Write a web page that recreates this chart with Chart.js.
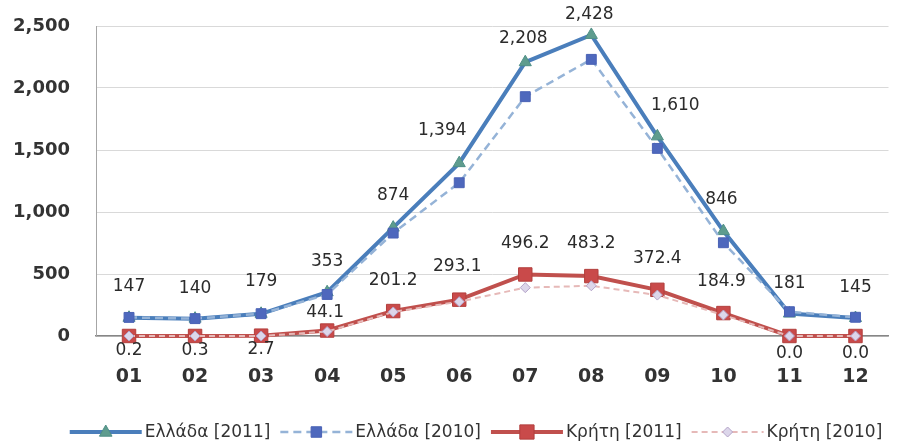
<!DOCTYPE html>
<html>
<head>
<meta charset="utf-8">
<script src="https://cdn.jsdelivr.net/npm/chart.js@4"></script>
<style>
    html, body { margin: 0; padding: 0; background: #fff; }
    #wrap { width: 899px; height: 448px; }
</style>
</head>
<body>
<div id="wrap"><canvas id="chart" width="899" height="448"></canvas></div>
<script>
// Μήνες
const months = ['01', '02', '03', '04', '05', '06', '07', '08', '09', '10', '11', '12'];

// Σειρές δεδομένων
const greece2011 = [147, 140, 179, 353, 874, 1394, 2208, 2428, 1610, 846, 181, 145];
const greece2010 = [150, 140, 180, 335, 830, 1236, 1930, 2231, 1513, 752, 196, 151];
const crete2011 = [0.2, 0.3, 2.7, 44.1, 201.2, 293.1, 496.2, 483.2, 372.4, 184.9, 0.0, 0.0];
const crete2010 = [0, 0, 0, 36, 194, 277, 390, 405, 330, 169, 0, 0];

const seriesNames = ['Ελλάδα [2011]', 'Ελλάδα [2010]', 'Κρήτη [2011]', 'Κρήτη [2010]'];
const yTicks = [0, 500, 1000, 1500, 2000, 2500];

// Μετατόπιση ετικετών τιμών (pixels)
const greeceLabelDx = [0, 0, 0, 0, 0, -17, -2, -2, 18, -2, 0, 0];
const greeceLabelDy = [-31, -30, -32, -31, -32, -33, -24, -20, -31, -32, -30, -30];
const creteLabelDx = [0, 0, 0, -2, 0, -2, 0, 0, 0, -2, 0, 0];
const creteLabelDy = [15, 15, 14, -18, -30, -33, -31, -33, -31, -31, 18, 18];

const FONT = '"DejaVu Sans", Verdana, sans-serif';

// Σχεδίαση δείκτη (για το υπόμνημα)
function drawMarker(ctx, style, x, y, r, fill, stroke) {
    ctx.save();
    ctx.fillStyle = fill;
    ctx.strokeStyle = stroke;
    ctx.lineWidth = 1;
    ctx.setLineDash([]);
    ctx.beginPath();
    if (style === 'triangle') {
        ctx.moveTo(x, y - r);
        ctx.lineTo(x + r * 0.9, y + r * 0.6);
        ctx.lineTo(x - r * 0.9, y + r * 0.6);
    } else if (style === 'rectRot') {
        ctx.moveTo(x, y - r);
        ctx.lineTo(x + r, y);
        ctx.lineTo(x, y + r);
        ctx.lineTo(x - r, y);
    } else {
        const s = r * 0.75;
        ctx.rect(x - s, y - s, 2 * s, 2 * s);
    }
    ctx.closePath();
    ctx.fill();
    ctx.stroke();
    ctx.restore();
}

// Ετικέτες τιμών
const valueLabels = {
    id: 'valueLabels',
    afterDatasetsDraw(chart) {
        const ctx = chart.ctx;
        ctx.save();
        ctx.font = '17px ' + FONT;
        ctx.fillStyle = '#2b2b2b';
        ctx.textAlign = 'center';
        ctx.textBaseline = 'middle';
        chart.data.datasets.forEach((ds, i) => {
            if (!ds.labelDy) return;
            const meta = chart.getDatasetMeta(i);
            meta.data.forEach((pt, j) => {
                ctx.fillText(ds.formatValue(ds.data[j]), pt.x + ds.labelDx[j], pt.y + ds.labelDy[j]);
            });
        });
        ctx.restore();
    }
};

// Υπόμνημα με γραμμή + δείκτη
const lineLegend = {
    id: 'lineLegend',
    afterDraw(chart) {
        const ctx = chart.ctx;
        const sampleW = 72, textGap = 3, itemGap = 10, y = 432, centerX = 476;
        ctx.save();
        ctx.font = '17px ' + FONT;
        ctx.textBaseline = 'middle';
        ctx.textAlign = 'left';
        const items = chart.data.datasets.map(ds => ({ ds, w: sampleW + textGap + ctx.measureText(ds.label).width }));
        const total = items.reduce((s, it) => s + it.w, 0) + itemGap * (items.length - 1);
        let x = centerX - total / 2;
        items.forEach(({ ds, w }) => {
            ctx.save();
            ctx.strokeStyle = ds.borderColor;
            ctx.lineWidth = ds.borderWidth;
            ctx.setLineDash(ds.borderDash || []);
            ctx.beginPath();
            ctx.moveTo(x, y);
            ctx.lineTo(x + sampleW, y);
            ctx.stroke();
            ctx.restore();
            drawMarker(ctx, ds.pointStyle, x + sampleW / 2, y, ds.pointRadius, ds.pointBackgroundColor, ds.pointBorderColor);
            ctx.fillStyle = '#333333';
            ctx.fillText(ds.label, x + sampleW + textGap, y + 1);
            x += w + itemGap;
        });
        ctx.restore();
    }
};

const fmtInt = v => v.toLocaleString('en-US', { maximumFractionDigits: 0 });
const fmtDec = v => v.toFixed(1);

new Chart(document.getElementById('chart'), {
    type: 'line',
    data: {
        labels: months,
        datasets: [
            {
                label: seriesNames[0],
                data: greece2011,
                borderColor: '#4A7EBB',
                borderWidth: 4,
                pointStyle: 'triangle',
                pointRadius: 7,
                pointBackgroundColor: '#5E9C8E',
                pointBorderColor: '#4F8F86',
                pointBorderWidth: 1,
                order: 4,
                clip: false,
                formatValue: fmtInt,
                labelDx: greeceLabelDx,
                labelDy: greeceLabelDy,
            },
            {
                label: seriesNames[1],
                data: greece2010,
                borderColor: '#95B3D7',
                borderWidth: 2.5,
                borderDash: [8, 5],
                pointStyle: 'rect',
                pointRadius: 7,
                pointBackgroundColor: '#4E68BD',
                pointBorderColor: '#4A62B5',
                pointBorderWidth: 1,
                order: 3,
                clip: false,
            },
            {
                label: seriesNames[2],
                data: crete2011,
                borderColor: '#C0504D',
                borderWidth: 4,
                pointStyle: 'rect',
                pointRadius: 9.5,
                pointBackgroundColor: '#C94A4A',
                pointBorderColor: '#B23F3D',
                pointBorderWidth: 1,
                order: 2,
                clip: false,
                formatValue: fmtDec,
                labelDx: creteLabelDx,
                labelDy: creteLabelDy,
            },
            {
                label: seriesNames[3],
                data: crete2010,
                borderColor: '#E6B9B8',
                borderWidth: 2,
                borderDash: [6, 4],
                pointStyle: 'rectRot',
                pointRadius: 5,
                pointBackgroundColor: '#DCD6EA',
                pointBorderColor: '#B3A2C7',
                pointBorderWidth: 1,
                order: 1,
                clip: false,
            },
        ]
    },
    options: {
        responsive: false,
        animation: false,
        locale: 'en-US',
        layout: { padding: { top: 26, right: 9, bottom: 52, left: 0 } },
        plugins: {
            legend: { display: false },
            tooltip: { enabled: false },
        },
        elements: { line: { tension: 0 } },
        scales: {
            x: {
                offset: true,
                grid: { display: false, drawTicks: false },
                border: { display: true, color: '#868686', width: 1.5 },
                ticks: {
                    padding: 30,
                    color: '#333333',
                    font: { family: FONT, size: 19, weight: 'bold' },
                },
                afterFit: s => { s.height = 60; s.paddingLeft = 0; s.paddingRight = 0; },
            },
            y: {
                min: yTicks[0],
                max: yTicks[yTicks.length - 1],
                afterBuildTicks: s => { s.ticks = yTicks.map(v => ({ value: v })); },
                grid: { color: '#D9D9D9', lineWidth: 1, drawTicks: false },
                border: { display: true, color: '#A6A6A6', width: 1 },
                ticks: {
                    padding: 26,
                    color: '#333333',
                    font: { family: FONT, size: 18, weight: 'bold' },
                },
                afterFit: s => { s.width = 96; s.paddingTop = 0; s.paddingBottom = 0; },
            }
        }
    },
    plugins: [valueLabels, lineLegend]
});
</script>
</body>
</html>
